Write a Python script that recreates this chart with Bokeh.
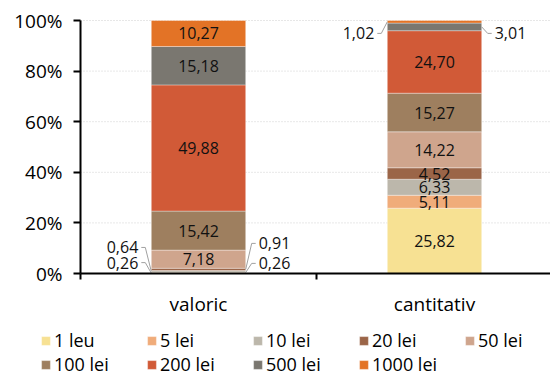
from bokeh.plotting import figure
from bokeh.models import (Range1d, FixedTicker, Legend, LegendItem, ColumnDataSource)
from bokeh.core.properties import value
from bokeh.embed import file_html
from bokeh.resources import INLINE

categories = ["valoric", "cantitativ"]
series = ["1 leu", "5 lei", "10 lei", "20 lei", "50 lei", "100 lei", "200 lei", "500 lei", "1000 lei"]
valoric = [0.26, 0.26, 0.64, 0.91, 7.18, 15.42, 49.88, 15.18, 10.27]
cantitativ = [25.82, 5.11, 6.33, 4.52, 14.22, 15.27, 24.70, 3.01, 1.02]
colors = ["#F7E193", "#F0AC7A", "#BCB7AB", "#9B6548", "#CFA58D", "#9E7F5F", "#D15A37", "#7A7770", "#E37326"]
y_ticks = [0, 20, 40, 60, 80, 100]

FONT = "Open Sans"
xs = [0.5, 1.5]
BW = 0.4

# frame geometry (screen px)
W, H = 550, 376
FL, FT = 12, 10
AX_X, Y0, Y100 = 80, 273, 20
PXU = 236.0
PYU = (Y0 - Y100) / 100.0
x_start = -(AX_X - FL) / PXU
x_end = x_start + (W - FL) / PXU
y_end = 100 + (Y100 - FT) / PYU
y_start = -(H - Y0) / PYU

p = figure(width=W, height=H, output_backend="svg", toolbar_location=None,
           x_range=Range1d(x_start, x_end), y_range=Range1d(y_start, y_end),
           x_axis_location="above", y_axis_location="left",
           min_border_left=FL, min_border_top=FT, min_border_right=0, min_border_bottom=0)
p.outline_line_color = None
p.background_fill_color = "white"
p.grid.visible = False

gy = y_ticks[1:]
p.segment(x0=[0] * len(gy), x1=[x_end] * len(gy), y0=gy, y1=gy,
          line_color="#cfcfcf", line_dash="1 2", line_width=1, level="underlay")

data = {"x": xs}
for s, v1, v2 in zip(series, valoric, cantitativ):
    data[s] = [v1, v2]
src = ColumnDataSource(data)
rends = p.vbar_stack(series, x="x", width=BW, source=src, color=colors,
                     line_color="white", line_alpha=0.35, line_width=1)

# y axis (fixed at x=0); ticks drawn as minor ticks so the axis has no label texts
p.yaxis.fixed_location = 0
p.yaxis.bounds = (0, 100)
p.yaxis.ticker = FixedTicker(ticks=[], minor_ticks=y_ticks)
p.yaxis.major_tick_line_color = None
p.yaxis.minor_tick_out = 7
p.yaxis.minor_tick_in = 0
p.yaxis.minor_tick_line_width = 2
p.yaxis.minor_tick_line_color = "black"
p.yaxis.axis_line_width = 2
p.yaxis.axis_line_color = "black"
p.yaxis.major_label_standoff = 0

# x axis (fixed at y=0), ticks at category boundaries
p.xaxis.fixed_location = 0
p.xaxis.bounds = (0, 2)
p.xaxis.ticker = FixedTicker(ticks=[], minor_ticks=[0, 1, 2])
p.xaxis.major_tick_line_color = None
p.xaxis.minor_tick_in = 6
p.xaxis.minor_tick_out = 0
p.xaxis.minor_tick_line_width = 2
p.xaxis.minor_tick_line_color = "black"
p.xaxis.axis_line_width = 2
p.xaxis.axis_line_color = "black"
p.xaxis.major_label_standoff = 0

# tick labels
p.text(x=[-18 / PXU] * len(y_ticks), y=y_ticks, text=[f"{t}%" for t in y_ticks],
       text_align="right", text_baseline="middle",
       text_font=value(FONT), text_font_size="19px", text_color="black")
p.text(x=xs, y=[-30 / PYU] * len(xs), text=categories,
       text_align="center", text_baseline="middle",
       text_font=value(FONT), text_font_size="19px", text_color="black")

def fmt(v):
    return f"{v:.2f}".replace(".", ",")

in_x, in_y, in_t = [], [], []
out_lbl = []
for xi, vals in zip(xs, [valoric, cantitativ]):
    base = 0.0
    for v in vals:
        mid = base + v / 2
        if v >= 3.5:
            in_x.append(xi); in_y.append(mid); in_t.append(fmt(v))
        else:
            out_lbl.append((xi, mid, fmt(v)))
        base += v

p.text(x=in_x, y=in_y, text=in_t, text_align="center", text_baseline="middle",
       text_font=value(FONT), text_font_size="16px", text_color="#111111")

layout_out = [
    ("L", 4.3), ("R", 4.0), ("L", 10.3), ("R", 11.9),
    ("R", 94.9), ("L", 94.9),
]
px = 1 / PXU
lx, ly, lt, rx, ry, rt = [], [], [], [], [], []
for (xi, mid, t), (side, ylab) in zip(out_lbl, layout_out):
    if side == "L":
        edge = xi - BW / 2
        p.line([edge - 10 * px, edge - 6 * px, edge], [ylab, ylab, mid],
               line_color="#a0a0a0", line_width=1)
        lx.append(edge - 13 * px); ly.append(ylab); lt.append(t)
    else:
        edge = xi + BW / 2
        p.line([edge + 10 * px, edge + 6 * px, edge], [ylab, ylab, mid],
               line_color="#a0a0a0", line_width=1)
        rx.append(edge + 13 * px); ry.append(ylab); rt.append(t)

p.text(x=lx, y=ly, text=lt, text_align="right", text_baseline="middle",
       text_font=value(FONT), text_font_size="16px", text_color="#111111")
p.text(x=rx, y=ry, text=rt, text_align="left", text_baseline="middle",
       text_font=value(FONT), text_font_size="16px", text_color="#111111")

items = [LegendItem(label=s, renderers=[r]) for s, r in zip(series, rends)]
legend = Legend(items=items, orientation="horizontal", ncols=5,
                glyph_width=11, glyph_height=11, label_standoff=3,
                label_width=92, label_height=24, spacing=0, padding=0, margin=0,
                label_text_font=FONT, label_text_font_size="18px",
                label_text_color="black", border_line_color=None,
                background_fill_alpha=0, location=(40 - FL, 0))
p.add_layout(legend, "center")

open("out.html", "w").write(file_html(p, INLINE))
